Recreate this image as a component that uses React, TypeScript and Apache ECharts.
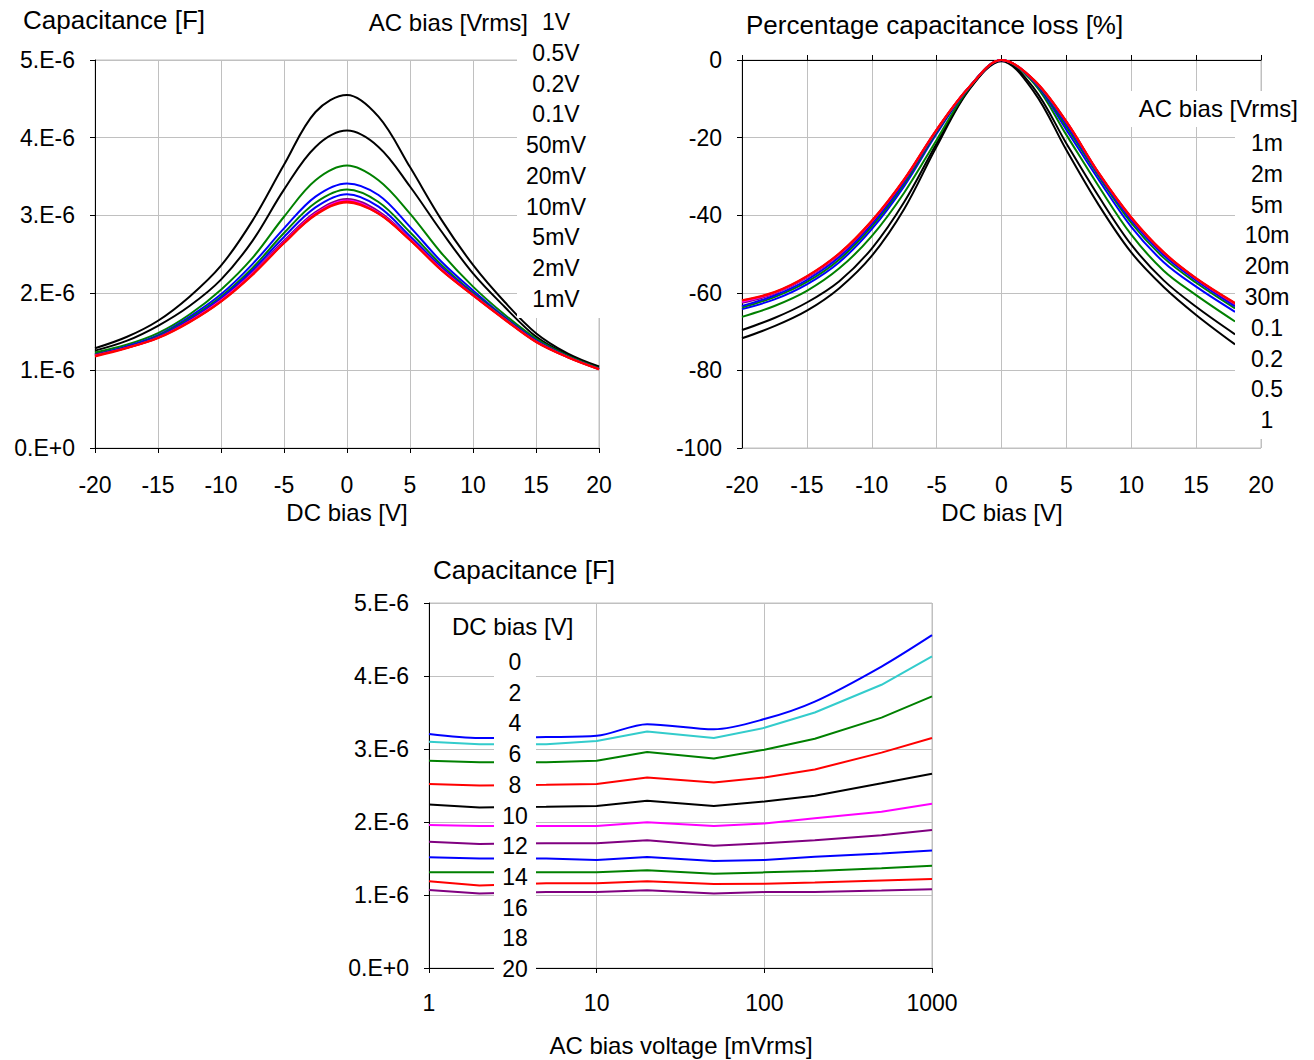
import React, { useEffect, useRef } from "react";
import * as echarts from "echarts";

// ---------- Chart 1: Capacitance vs DC bias (values in 1E-6 F) ----------
const dcBiasX1 = [-20, -17.5, -15, -12.5, -10, -7.5, -5, -2.5, 0, 2.5, 5, 7.5, 10, 12.5, 15, 17.5, 20];
const cap1V = [1.285, 1.43, 1.64, 1.95, 2.35, 2.93, 3.65, 4.33, 4.55, 4.27, 3.62, 2.94, 2.36, 1.885, 1.48, 1.22, 1.05];
const cap05V = [1.255, 1.38, 1.575, 1.83, 2.17, 2.67, 3.33, 3.88, 4.09, 3.88, 3.37, 2.79, 2.25, 1.82, 1.435, 1.2, 1.04];
const cap02V = [1.23, 1.33, 1.48, 1.72, 2.04, 2.45, 2.98, 3.45, 3.64, 3.45, 3.02, 2.51, 2.08, 1.72, 1.41, 1.19, 1.03];
const cap01V = [1.21, 1.31, 1.455, 1.69, 1.98, 2.37, 2.83, 3.24, 3.41, 3.26, 2.85, 2.4, 2.03, 1.69, 1.39, 1.18, 1.02];
const cap50mV = [1.21, 1.3, 1.445, 1.67, 1.95, 2.32, 2.77, 3.16, 3.33, 3.17, 2.78, 2.36, 2.0, 1.68, 1.385, 1.18, 1.02];
const cap20mV = [1.2, 1.3, 1.435, 1.655, 1.93, 2.29, 2.72, 3.1, 3.27, 3.11, 2.73, 2.33, 1.985, 1.67, 1.38, 1.175, 1.02];
const cap10mV = [1.2, 1.29, 1.425, 1.64, 1.91, 2.26, 2.67, 3.04, 3.21, 3.05, 2.7, 2.31, 1.975, 1.665, 1.375, 1.175, 1.02];
const cap5mV = [1.19, 1.29, 1.42, 1.63, 1.9, 2.245, 2.65, 3.02, 3.19, 3.03, 2.69, 2.3, 1.97, 1.66, 1.37, 1.17, 1.015];
const cap2mV = [1.19, 1.29, 1.42, 1.625, 1.89, 2.235, 2.64, 3.01, 3.175, 3.02, 2.68, 2.29, 1.97, 1.66, 1.37, 1.17, 1.015];
const cap1mV = [1.18, 1.285, 1.415, 1.62, 1.885, 2.23, 2.64, 3.0, 3.165, 3.02, 2.68, 2.29, 1.965, 1.655, 1.365, 1.17, 1.015];

const acLabels1 = ["1V", "0.5V", "0.2V", "0.1V", "50mV", "20mV", "10mV", "5mV", "2mV", "1mV"];
const acColors = ["#000000", "#000000", "#008000", "#0000FF", "#008000", "#0000FF", "#800080", "#FF00FF", "#FF0000", "#FF0000"];

// ---------- Chart 2: Percentage capacitance loss vs DC bias ----------
const dcBiasX2 = [-20, -17.5, -15, -12.5, -10, -7.5, -5, -2.5, 0, 2.5, 5, 7.5, 10, 12.5, 15, 18];
const loss1V = [-71.7, -68.6, -64.6, -58.8, -50.5, -38.4, -22.3, -7.7, -0.3, -8.2, -23.2, -37.4, -49.6, -58.5, -65.7, -73.3];
const loss05V = [-69.6, -66.5, -62.5, -57.0, -48.6, -36.6, -21.5, -7.5, -0.1, -7.3, -21.5, -35.2, -47.6, -56.8, -63.6, -70.7];
const loss02V = [-66.2, -63.4, -59.5, -53.7, -45.4, -34.2, -20.6, -7.3, 0, -6.0, -19.3, -32.6, -45.0, -54.3, -60.6, -67.4];
const loss01V = [-64.2, -61.7, -57.8, -52.1, -43.6, -32.5, -19.0, -7.1, 0, -5.6, -18.0, -30.9, -43.0, -52.1, -58.4, -64.9];
const loss30m = [-63.8, -61.1, -57.2, -51.4, -42.9, -31.9, -18.6, -7.0, 0, -5.4, -17.2, -30.0, -42.0, -51.0, -57.4, -64.0];
const loss20m = [-63.4, -60.7, -56.7, -50.8, -42.3, -31.4, -18.3, -7.0, 0, -5.3, -16.6, -29.6, -41.3, -50.3, -56.8, -63.5];
const loss10m = [-62.6, -60.2, -56.1, -50.2, -41.8, -31.0, -18.1, -7.0, 0, -5.2, -16.0, -29.3, -40.8, -49.8, -56.4, -63.0];
const loss5m = [-62.3, -60.0, -55.9, -50.0, -41.6, -30.8, -18.0, -7.0, 0, -5.2, -15.9, -29.2, -40.6, -49.6, -56.3, -62.8];
const loss2m = [-62.0, -59.9, -55.8, -49.9, -41.5, -30.8, -18.0, -7.0, 0, -5.2, -15.9, -29.2, -40.6, -49.6, -56.3, -62.7];
const loss1m = [-61.9, -59.8, -55.7, -49.8, -41.4, -30.7, -17.9, -7.0, 0, -5.1, -15.8, -29.1, -40.5, -49.5, -56.2, -62.6];

const acLabels2 = ["1m", "2m", "5m", "10m", "20m", "30m", "0.1", "0.2", "0.5", "1"];

// ---------- Chart 3: Capacitance vs AC bias voltage (values in 1E-6 F) ----------
const acBiasX = [1, 2, 5, 10, 20, 50, 100, 200, 500, 1000];
const capDc0 = [3.205, 3.15, 3.164, 3.18, 3.34, 3.27, 3.41, 3.65, 4.13, 4.56];
const capDc2 = [3.1, 3.064, 3.064, 3.11, 3.24, 3.15, 3.29, 3.5, 3.88, 4.27];
const capDc4 = [2.84, 2.82, 2.82, 2.84, 2.96, 2.87, 2.99, 3.14, 3.43, 3.72];
const capDc6 = [2.52, 2.5, 2.51, 2.52, 2.61, 2.54, 2.61, 2.72, 2.95, 3.15];
const capDc8 = [2.24, 2.2, 2.21, 2.22, 2.29, 2.22, 2.28, 2.36, 2.53, 2.66];
const capDc10 = [1.96, 1.945, 1.945, 1.945, 1.995, 1.945, 1.98, 2.05, 2.14, 2.25];
const capDc12 = [1.73, 1.7, 1.71, 1.71, 1.75, 1.675, 1.71, 1.75, 1.82, 1.89];
const capDc14 = [1.516, 1.5, 1.5, 1.48, 1.52, 1.466, 1.48, 1.525, 1.57, 1.61];
const capDc16 = [1.31, 1.31, 1.31, 1.31, 1.34, 1.29, 1.31, 1.33, 1.365, 1.4];
const capDc18 = [1.19, 1.13, 1.16, 1.16, 1.19, 1.15, 1.155, 1.17, 1.2, 1.22];
const capDc20 = [1.07, 1.02, 1.04, 1.04, 1.065, 1.02, 1.04, 1.04, 1.06, 1.08];

const dcLabels = ["0", "2", "4", "6", "8", "10", "12", "14", "16", "18", "20"];
const dcColors = ["#0000FF", "#33CCCC", "#008000", "#FF0000", "#000000", "#FF00FF", "#800080", "#0000FF", "#008000", "#FF0000", "#800080"];

const FONT = '"Liberation Sans", Arial, sans-serif';
const GRID_GREY = "#c0c0c0";

const capFormatter = (v: number) => (v === 0 ? "0.E+0" : `${Math.round(v)}.E-6`);

function pairs(xs: number[], ys: number[]) {
  return xs.map((x, i) => [x, ys[i]]);
}

function txt(text: string, x: number, y: number, size: number, align: string) {
  return {
    type: "text",
    x,
    y,
    z: 110,
    style: {
      text,
      fill: "#000",
      font: `${size}px ${FONT}`,
      textAlign: align,
      textVerticalAlign: "middle",
      align,
      verticalAlign: "middle",
    },
  };
}

function box(x: number, y: number, w: number, h: number) {
  return { type: "rect", x, y, z: 100, shape: { x: 0, y: 0, width: w, height: h }, style: { fill: "#ffffff" } };
}

export default function App() {
  const ref = useRef<HTMLDivElement>(null);

  useEffect(() => {
    if (!ref.current) return;
    const chart = echarts.init(ref.current, null, { renderer: "svg" });

    const axisLabel = (margin: number, formatter?: any) => ({
      color: "#000",
      fontSize: 23,
      fontFamily: FONT,
      margin,
      formatter,
    });
    const splitLine = { show: true, lineStyle: { color: GRID_GREY, width: 1 } };
    const blackLine = { show: true, onZero: false, lineStyle: { color: "#000", width: 1 } };
    const tick = { show: true, inside: false, length: 5, lineStyle: { color: "#000" } };

    const caps1 = [cap1V, cap05V, cap02V, cap01V, cap50mV, cap20mV, cap10mV, cap5mV, cap2mV, cap1mV];
    const losses = [loss1V, loss05V, loss02V, loss01V, loss30m, loss20m, loss10m, loss5m, loss2m, loss1m];
    const caps3 = [capDc0, capDc2, capDc4, capDc6, capDc8, capDc10, capDc12, capDc14, capDc16, capDc18, capDc20];

    const series: any[] = [];
    caps1.forEach((vals, i) => {
      series.push({
        name: "C " + acLabels1[i],
        type: "line",
        xAxisIndex: 0,
        yAxisIndex: 0,
        data: pairs(dcBiasX1, vals),
        showSymbol: false,
        smooth: 0.35,
        lineStyle: { color: acColors[i], width: 2 },
        itemStyle: { color: acColors[i] },
      });
    });
    losses.forEach((vals, i) => {
      series.push({
        name: "loss " + acLabels2[acLabels2.length - 1 - i],
        type: "line",
        xAxisIndex: 1,
        yAxisIndex: 1,
        data: pairs(dcBiasX2, vals),
        showSymbol: false,
        smooth: 0.35,
        lineStyle: { color: acColors[i], width: 2 },
        itemStyle: { color: acColors[i] },
      });
    });
    caps3.forEach((vals, i) => {
      series.push({
        name: "DC " + dcLabels[i],
        type: "line",
        xAxisIndex: 3,
        yAxisIndex: 2,
        data: pairs(acBiasX, vals),
        showSymbol: false,
        smooth: i === 0 ? 0.3 : false,
        lineStyle: { color: dcColors[i], width: 2 },
        itemStyle: { color: dcColors[i] },
      });
    });

    const graphic: any[] = [];
    // Chart 1 texts
    graphic.push(txt("Capacitance [F]", 23, 20, 26, "left"));
    graphic.push(txt("AC bias [Vrms]", 528, 22, 24, "right"));
    graphic.push(box(517, 40, 86, 278));
    acLabels1.forEach((l, i) => graphic.push(txt(l, 556, 22 + i * 30.75, 23, "center")));
    graphic.push(txt("DC bias [V]", 347, 512, 24, "center"));
    // Chart 2 texts
    graphic.push(txt("Percentage capacitance loss [%]", 746, 25, 26, "left"));
    graphic.push(box(1131, 91, 175, 36));
    graphic.push(box(1235, 127, 71, 312));
    graphic.push(txt("AC bias [Vrms]", 1298, 108, 24, "right"));
    acLabels2.forEach((l, i) => graphic.push(txt(l, 1267, 143 + i * 30.8, 23, "center")));
    graphic.push(txt("DC bias [V]", 1002, 512, 24, "center"));
    // Chart 3 texts
    graphic.push(txt("Capacitance [F]", 433, 570, 26, "left"));
    graphic.push(txt("DC bias [V]", 452, 626, 24, "left"));
    graphic.push(box(494, 645, 42, 340));
    dcLabels.forEach((l, i) => graphic.push(txt(l, 515, 662 + i * 30.7, 23, "center")));
    graphic.push(txt("AC bias voltage [mVrms]", 681, 1045, 24, "center"));

    chart.setOption({
      animation: false,
      backgroundColor: "#ffffff",
      textStyle: { fontFamily: FONT },
      grid: [
        { left: 95, top: 60, width: 504, height: 388, show: true, borderColor: GRID_GREY, borderWidth: 1, backgroundColor: "transparent", outerBoundsMode: "none" },
        { left: 742, top: 60, width: 519, height: 388, show: true, borderColor: GRID_GREY, borderWidth: 1, backgroundColor: "transparent", outerBoundsMode: "none" },
        { left: 429, top: 603, width: 503, height: 365, show: true, borderColor: GRID_GREY, borderWidth: 1, backgroundColor: "transparent", outerBoundsMode: "none" },
      ],
      xAxis: [
        {
          gridIndex: 0, type: "value", min: -20, max: 20, interval: 5, position: "bottom",
          axisLine: blackLine, axisTick: tick, splitLine, axisLabel: axisLabel(25),
        },
        {
          gridIndex: 1, type: "value", min: -20, max: 20, interval: 5, position: "bottom",
          axisLine: { show: false }, axisTick: { show: false }, splitLine, axisLabel: axisLabel(25),
        },
        {
          gridIndex: 1, type: "value", min: -20, max: 20, interval: 5, position: "top",
          axisLine: blackLine, axisTick: tick, splitLine: { show: false }, axisLabel: { show: false },
        },
        {
          gridIndex: 2, type: "log", logBase: 10, min: 1, max: 1000, position: "bottom",
          axisLine: blackLine, axisTick: tick, splitLine, minorTick: { show: false },
          axisLabel: axisLabel(23, (v: number) => String(Math.round(v))),
        },
      ],
      yAxis: [
        {
          gridIndex: 0, type: "value", min: 0, max: 5, interval: 1,
          axisLine: blackLine, axisTick: tick, splitLine, axisLabel: axisLabel(20, capFormatter),
        },
        {
          gridIndex: 1, type: "value", min: -100, max: 0, interval: 20,
          axisLine: blackLine, axisTick: tick, splitLine, axisLabel: axisLabel(20),
        },
        {
          gridIndex: 2, type: "value", min: 0, max: 5, interval: 1,
          axisLine: blackLine, axisTick: tick, splitLine, axisLabel: axisLabel(20, capFormatter),
        },
      ],
      series,
      graphic,
    });

    return () => chart.dispose();
  }, []);

  return (
    <div
      ref={ref}
      style={{ position: "fixed", left: 0, top: 0, width: 1314, height: 1060, background: "#fff" }}
    />
  );
}
